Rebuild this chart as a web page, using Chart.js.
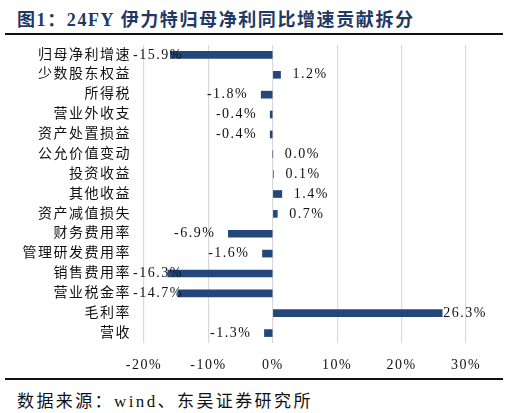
<!DOCTYPE html>
<html>
<head>
<meta charset="utf-8">
<script src="https://cdn.jsdelivr.net/npm/chart.js@4/dist/chart.umd.min.js"></script>
<style>
  html, body { margin: 0; padding: 0; background: #fff; }
  body { width: 509px; height: 413px; position: relative; overflow: hidden; }
  #title {
    position: absolute; left: 17px; top: 5px;
    font: bold 18px "Liberation Serif", "Noto Sans CJK SC", serif;
    letter-spacing: 1.6px; color: #1f3864; white-space: nowrap;
  }
  .rule { position: absolute; left: 5px; width: 498px; height: 2px; background: #111; }
  #source {
    position: absolute; left: 17px; top: 387px;
    font: 17px "Liberation Serif", "Noto Sans CJK SC", serif;
    letter-spacing: 2.4px; color: #111; white-space: nowrap;
  }
  #box { position: absolute; left: 0; top: 40px; width: 500px; height: 335px; }
</style>
</head>
<body>
<div id="title">图1：24FY 伊力特归母净利同比增速贡献拆分</div>
<div class="rule" style="top:33px"></div>
<div id="box"><canvas id="chart1"></canvas></div>
<div class="rule" style="top:378px"></div>
<div id="source">数据来源：wind、东吴证券研究所</div>

<script>
/* data */
const categories = ['归母净利增速', '少数股东权益', '所得税', '营业外收支', '资产处置损益', '公允价值变动',
  '投资收益', '其他收益', '资产减值损失', '财务费用率', '管理研发费用率', '销售费用率', '营业税金率', '毛利率', '营收'];
const contribution = [-15.9, 1.2, -1.8, -0.4, -0.4, 0.0, 0.1, 1.4, 0.7, -6.9, -1.6, -16.3, -14.7, 26.3, -1.3];
const xTicks = [-20, -10, 0, 10, 20, 30];

const serif = '"Liberation Serif", "Noto Sans CJK SC", serif';

/* value labels beside bar ends, kept inside the panel */
const barLabels = {
  id: 'barLabels',
  afterDatasetsDraw(chart) {
    const ctx = chart.ctx;
    const meta = chart.getDatasetMeta(0);
    ctx.save();
    ctx.font = '14px ' + serif;
    ctx.fillStyle = '#111';
    ctx.textBaseline = 'middle';
    ctx.textAlign = 'left';
    meta.data.forEach((bar, i) => {
      const v = contribution[i];
      const txt = v.toFixed(1) + '%';
      const w = ctx.measureText(txt).width;
      let left;
      if (v < 0) {
        left = Math.max(bar.x - 13 - w, 133);
      } else {
        left = Math.min(bar.x + 12, 487 - w);
      }
      ctx.fillText(txt, left, bar.y);
    });
    ctx.restore();
  }
};

const spacing = {
  id: 'spacing',
  beforeDraw(chart) {
    chart.ctx.letterSpacing = '1.5px';
  }
};

new Chart(document.querySelector('#chart1'), {
  type: 'bar',
  data: {
    labels: categories,
    datasets: [{
      label: '贡献',
      data: contribution,
      backgroundColor: '#24477b',
      barThickness: 7
    }]
  },
  options: {
    indexAxis: 'y',
    responsive: true,
    maintainAspectRatio: false,
    animation: false,
    layout: { padding: { top: 5, right: 34, left: 0, bottom: 0 } },
    plugins: {
      legend: { display: false },
      tooltip: { enabled: false }
    },
    scales: {
      x: {
        min: -20,
        max: 30,
        afterBuildTicks(scale) {
          scale.ticks = xTicks.map(v => ({ value: v }));
        },
        afterFit(scale) { scale.height = 32; },
        grid: { color: '#d9d9d9', lineWidth: 1.2, drawTicks: false },
        border: { display: false },
        ticks: {
          padding: 14,
          color: '#111',
          font: { family: serif, size: 14 },
          callback: v => v + '%'
        }
      },
      y: {
        afterFit(scale) {
          scale.width = 144;
          scale.paddingTop = 0;
          scale.paddingBottom = 0;
        },
        grid: { display: false, drawTicks: false },
        border: { display: false },
        ticks: {
          padding: 13,
          color: '#111',
          autoSkip: false,
          font: { family: serif, size: 14 }
        }
      }
    }
  },
  plugins: [spacing, barLabels]
});
</script>
</body>
</html>
